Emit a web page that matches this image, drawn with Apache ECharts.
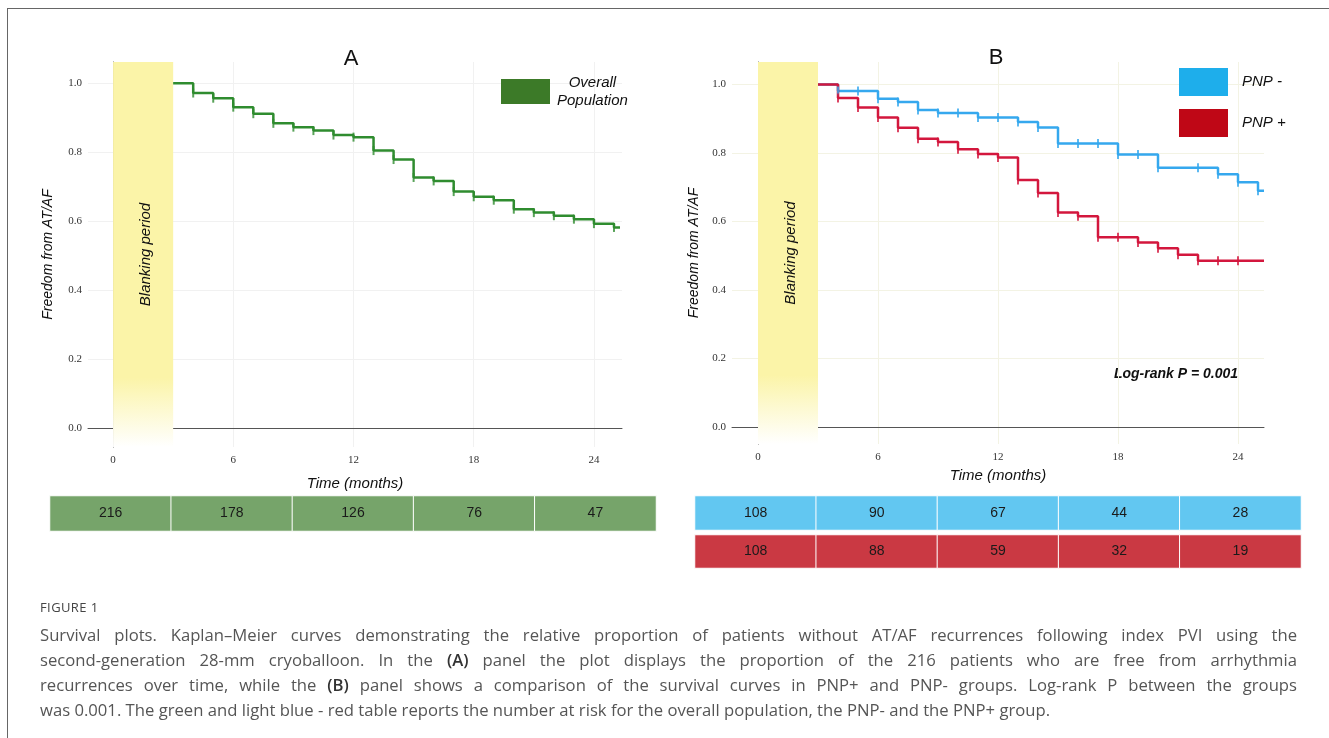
<!DOCTYPE html>
<html>
<head>
<meta charset="utf-8">
<script src="https://cdn.jsdelivr.net/npm/echarts@6/dist/echarts.min.js"></script>
<style>
  html, body { margin: 0; padding: 0; background: #fff; }
  #wrap { position: relative; width: 1329px; height: 738px; overflow: hidden; }
  #chart { position: absolute; left: 0; top: 0; width: 1329px; height: 738px; }
  #frame { position: absolute; left: 7px; top: 8px; width: 1400px; height: 800px;
           border-top: 1px solid #666; border-left: 1px solid #666; }
  #caption { position: absolute; left: 40px; top: 598px; width: 1257px;
             font-family: "Open Sans", "Liberation Sans", sans-serif; color: #555; }
  #caption .fig { font-size: 13px; color: #444; letter-spacing: 0.4px; line-height: 18px; margin-bottom: 6px; }
  #caption .ln { display: block; white-space: nowrap; line-height: 25px;
                 text-align: justify; text-align-last: justify; }
  #caption .ln.last { text-align-last: left; }
  #caption b { font-weight: 600; color: #333; }
</style>
</head>
<body>
<div id="wrap">
  <div id="frame"></div>
  <div id="chart"></div>
  <div id="caption">
    <div class="fig">FIGURE 1</div>
    <span class="ln">Survival plots. Kaplan–Meier curves demonstrating the relative proportion of patients without AT/AF recurrences following index PVI using the</span>
    <span class="ln">second-generation 28-mm cryoballoon. In the <b>(A)</b> panel the plot displays the proportion of the 216 patients who are free from arrhythmia</span>
    <span class="ln">recurrences over time, while the <b>(B)</b> panel shows a comparison of the survival curves in PNP+ and PNP- groups. Log-rank P between the groups</span>
    <span class="ln last" id="lastLine">was 0.001. The green and light blue - red table reports the number at risk for the overall population, the PNP- and the PNP+ group.</span>
  </div>
</div>
<script>
// axis ticks
const X_TICKS = [0, 6, 12, 18, 24];
const Y_TICKS = [0, 0.2, 0.4, 0.6, 0.8, 1.0];
const BLANKING = [0, 3];

// panel A - overall population
const TIME_ALL = [3, 4, 5, 6, 7, 8, 9, 10, 11, 12, 13, 14, 15, 16, 17, 18, 19, 20, 21, 22, 23, 24, 25, 25.3];
const SURV_ALL = [1.0, 0.972, 0.957, 0.931, 0.912, 0.884, 0.873, 0.863, 0.850, 0.844, 0.805, 0.779, 0.727, 0.717,
                  0.686, 0.671, 0.661, 0.635, 0.625, 0.616, 0.606, 0.593, 0.582, 0.582];
const CENSOR_ALL = [4, 5, 6, 7, 8, 9, 10, 11, 12, 13, 14, 15, 16, 17, 18, 19, 20, 21, 22, 23, 24, 25];

// panel B - PNP- / PNP+
const TIME_NEG = [3, 4, 6, 7, 8, 9, 11, 13, 14, 15, 18, 20, 23, 24, 25, 25.3];
const SURV_NEG = [1.0, 0.981, 0.959, 0.949, 0.926, 0.917, 0.904, 0.891, 0.875, 0.828, 0.796, 0.757, 0.738, 0.715, 0.690, 0.690];
const CENSOR_NEG = [4, 5, 6, 7, 8, 9, 10, 11, 12, 13, 14, 15, 16, 17, 18, 19, 20, 22, 23, 24, 25];

const TIME_POS = [3, 4, 5, 6, 7, 8, 9, 10, 11, 12, 13, 14, 15, 16, 17, 19, 20, 21, 22, 25.3];
const SURV_POS = [1.0, 0.961, 0.933, 0.904, 0.874, 0.842, 0.832, 0.811, 0.797, 0.787, 0.721, 0.683, 0.626, 0.615,
                  0.554, 0.539, 0.522, 0.503, 0.485, 0.485];
const CENSOR_POS = [4, 5, 6, 7, 8, 9, 10, 11, 12, 13, 14, 15, 16, 17, 18, 19, 20, 21, 22, 23, 24];

// number at risk tables
const RISK_TIMES = ['0', '6', '12', '18', '24'];
const AT_RISK_ALL = [216, 178, 126, 76, 47];
const AT_RISK_NEG = [108, 90, 67, 44, 28];
const AT_RISK_POS = [108, 88, 59, 32, 19];

const GREEN = '#2F8C2F';
const BLUE = '#35A8EE';
const RED = '#D3173D';
const SANS = '"Liberation Sans", Arial, sans-serif';

function stepAt(times, values, t) {
    let v = values[0];
    times.forEach((tt, i) => { if (tt <= t) v = values[i]; });
    return v;
}

function curve(times, values) {
    return times.map((t, i) => [t, values[i]]);
}

function censorPoints(censor, times, values) {
    return censor.map(t => [t, stepAt(times, values, t)]);
}

function blankingArea() {
    return {
        silent: true,
        itemStyle: {
            color: new echarts.graphic.LinearGradient(0, 0, 0, 1, [
                { offset: 0, color: '#FBF4A8' },
                { offset: 0.82, color: '#FBF4A8' },
                { offset: 1, color: '#FFFFFF' }
            ])
        },
        label: {
            show: true,
            position: 'inside',
            rotate: 90,
            offset: [0, 3],
            formatter: 'Blanking period',
            fontFamily: SANS,
            fontStyle: 'italic',
            fontSize: 15,
            color: '#111'
        },
        data: [[{ xAxis: BLANKING[0] }, { xAxis: BLANKING[1] }]]
    };
}

function kmAxes(gridIndex, xmin, xmax, ymin, ymax, gridColor, nameGapX, nameGapY) {
    const x = {
        type: 'value', gridIndex, min: xmin, max: xmax,
        name: 'Time (months)', nameLocation: 'middle', nameGap: nameGapX,
        nameTextStyle: { fontFamily: SANS, fontStyle: 'italic', fontSize: 15, color: '#111' },
        axisLine: { show: true, lineStyle: { color: '#555', width: 1 } },
        axisTick: { show: false, customValues: X_TICKS },
        axisLabel: { customValues: X_TICKS, margin: 8, fontFamily: '"Liberation Serif", serif', fontSize: 11, color: '#333' },
        splitLine: { show: true, lineStyle: { color: gridColor, width: 1 } }
    };
    const y = {
        type: 'value', gridIndex, min: ymin, max: ymax,
        name: 'Freedom from AT/AF', nameLocation: 'middle', nameGap: nameGapY,
        nameTextStyle: { fontFamily: SANS, fontStyle: 'italic', fontSize: 14, color: '#111' },
        axisLine: { show: true, lineStyle: { color: '#555', width: 1 } },
        axisTick: { show: false, customValues: Y_TICKS },
        axisLabel: { customValues: Y_TICKS, margin: 6, formatter: v => v.toFixed(1),
                     fontFamily: '"Liberation Serif", serif', fontSize: 11, color: '#333' },
        splitLine: { show: true, lineStyle: { color: gridColor, width: 1 } }
    };
    return [x, y];
}

function tableAxes(gridIndex) {
    return [
        { type: 'category', gridIndex, data: RISK_TIMES, show: false },
        { type: 'category', gridIndex, data: [''], show: false }
    ];
}

function riskRow(name, gridIndex, counts, color) {
    return {
        name, type: 'heatmap', xAxisIndex: gridIndex, yAxisIndex: gridIndex,
        data: counts.map((n, i) => [i, 0, n]),
        itemStyle: { color, borderColor: '#fff', borderWidth: 1 },
        label: { show: true, formatter: p => p.value[2], fontFamily: SANS, fontSize: 14, color: '#1a1a1a' },
        emphasis: { disabled: true },
        silent: true
    };
}

const chart = echarts.init(document.getElementById('chart'), null, { renderer: 'canvas' });

const [xA, yA] = kmAxes(0, -1.25, 25.4, -0.055, 1.062, '#F1F1F1', 29, 33);
const [xB, yB] = kmAxes(1, -1.3, 25.3, -0.05, 1.066, '#F3F3E4', 23, 31);
const tA = tableAxes(2), tBn = tableAxes(3), tBp = tableAxes(4);

const option = {
    animation: false,
    title: [
        { text: 'A', left: 346, top: 43, textAlign: 'center',
          textStyle: { fontFamily: SANS, fontSize: 22, fontWeight: 'normal', color: '#111' } },
        { text: 'B', left: 991, top: 42, textAlign: 'center',
          textStyle: { fontFamily: SANS, fontSize: 22, fontWeight: 'normal', color: '#111' } }
    ],
    legend: [
        {
            left: 501, top: 75, padding: 0, itemWidth: 49, itemHeight: 25, icon: 'rect',
            data: [{ name: 'Overall Population', itemStyle: { color: '#3C7A28' } }],
            formatter: () => '{a|Overall}\n{a|Population}',
            textStyle: { rich: { a: { fontFamily: SANS, fontStyle: 'italic', fontSize: 15, color: '#111',
                                      align: 'center', lineHeight: 18, padding: [0, 0, 0, 2] } } },
            selectedMode: false
        },
        {
            left: 1179, top: 68, padding: 0, orient: 'vertical', itemWidth: 49, itemHeight: 28, itemGap: 13, icon: 'rect',
            data: [
                { name: 'PNP -', itemStyle: { color: '#1EAEEB' } },
                { name: 'PNP +', itemStyle: { color: '#BF0716' } }
            ],
            formatter: name => '{a|' + name + '}',
            textStyle: { rich: { a: { fontFamily: SANS, fontStyle: 'italic', fontSize: 15, color: '#111',
                                      padding: [0, 0, 0, 9] } } },
            selectedMode: false
        }
    ],
    grid: [
        { left: 88, top: 62, width: 534, height: 385 },
        { left: 732, top: 62, width: 532, height: 382 },
        { left: 50, top: 496, width: 606, height: 35 },
        { left: 695, top: 496, width: 606, height: 34 },
        { left: 695, top: 535, width: 606, height: 33 }
    ],
    xAxis: [xA, xB, tA[0], tBn[0], tBp[0]],
    yAxis: [yA, yB, tA[1], tBn[1], tBp[1]],
    graphic: [
        { type: 'text', x: 1176, y: 374, silent: true,
          style: { text: 'Log-rank P = 0.001', font: 'italic bold 14px "Liberation Sans", Arial, sans-serif',
                   fill: '#111', align: 'center', verticalAlign: 'middle' } }
    ],
    series: [
        {
            name: 'Overall Population', type: 'line', xAxisIndex: 0, yAxisIndex: 0, step: 'end',
            showSymbol: false, silent: true, z: 3,
            lineStyle: { color: GREEN, width: 2.5 }, itemStyle: { color: GREEN },
            data: curve(TIME_ALL, SURV_ALL),
            markArea: blankingArea()
        },
        {
            name: 'censor-all', type: 'scatter', xAxisIndex: 0, yAxisIndex: 0, silent: true, z: 4,
            symbol: 'rect', symbolSize: [2, 9], itemStyle: { color: GREEN },
            data: censorPoints(CENSOR_ALL, TIME_ALL, SURV_ALL)
        },
        {
            name: 'PNP -', type: 'line', xAxisIndex: 1, yAxisIndex: 1, step: 'end',
            showSymbol: false, silent: true, z: 3,
            lineStyle: { color: BLUE, width: 2.5 }, itemStyle: { color: BLUE },
            data: curve(TIME_NEG, SURV_NEG),
            markArea: blankingArea()
        },
        {
            name: 'PNP +', type: 'line', xAxisIndex: 1, yAxisIndex: 1, step: 'end',
            showSymbol: false, silent: true, z: 3,
            lineStyle: { color: RED, width: 2.5 }, itemStyle: { color: RED },
            data: curve(TIME_POS, SURV_POS)
        },
        {
            name: 'censor-neg', type: 'scatter', xAxisIndex: 1, yAxisIndex: 1, silent: true, z: 4,
            symbol: 'rect', symbolSize: [2, 9], itemStyle: { color: BLUE },
            data: censorPoints(CENSOR_NEG, TIME_NEG, SURV_NEG)
        },
        {
            name: 'censor-pos', type: 'scatter', xAxisIndex: 1, yAxisIndex: 1, silent: true, z: 4,
            symbol: 'rect', symbolSize: [2, 9], itemStyle: { color: RED },
            data: censorPoints(CENSOR_POS, TIME_POS, SURV_POS)
        },
        riskRow('at risk all', 2, AT_RISK_ALL, '#76A46A'),
        riskRow('at risk PNP-', 3, AT_RISK_NEG, '#62C7F1'),
        riskRow('at risk PNP+', 4, AT_RISK_POS, '#CA3943')
    ]
};

chart.setOption(option);

// fit caption font so that the last (unjustified) line has the reference width
(function fitCaption() {
    const last = document.getElementById('lastLine');
    const probe = document.createElement('span');
    probe.style.cssText = 'position:absolute;visibility:hidden;white-space:nowrap;font-family:"Open Sans","Liberation Sans",sans-serif;font-size:16px;';
    probe.textContent = last.textContent;
    document.body.appendChild(probe);
    const w = probe.getBoundingClientRect().width;
    document.body.removeChild(probe);
    const size = 16 * 1011 / w;
    document.querySelectorAll('#caption .ln').forEach(el => { el.style.fontSize = size.toFixed(2) + 'px'; });
})();
</script>
</body>
</html>
